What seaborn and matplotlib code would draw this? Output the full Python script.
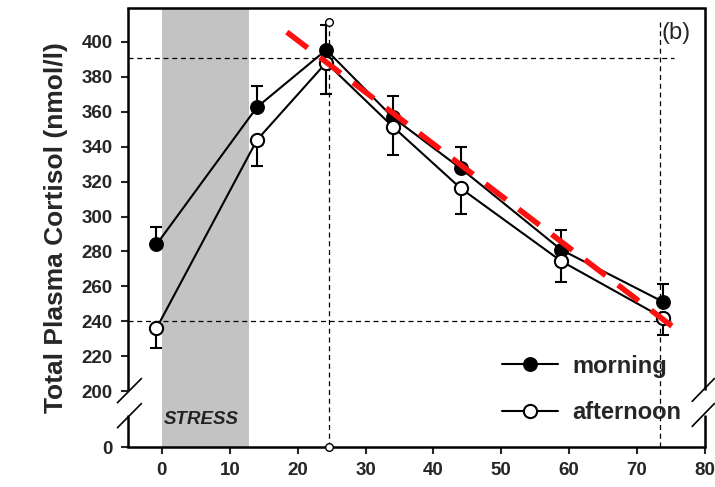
import numpy as np
import pandas as pd
import seaborn as sns
import matplotlib.pyplot as plt

# sampling times (min) and cortisol (nmol/l)
time = [-0.8, 14, 24.2, 34, 44, 58.8, 73.8]
morning = [284, 362.6, 395.4, 356.8, 327.6, 281, 251.2]
morning_err = [10, 12, 14, 12, 12, 11, 10]
afternoon = [236, 343.8, 388.1, 351.5, 316.2, 274.5, 242]
afternoon_err = [11, 15, 18, 16, 15, 12, 10]

# fitted decline (red dashed) end points
fit_x = [18.4, 75.7]
fit_y = [405.6, 235.5]

# stress window and guide lines
stress_span = [0, 12.8]
peak_x = 24.6
end_x = 73.3
guide_top = 411.5
peak_level = 391
end_level = 240

# y axis is broken: "0" is drawn just below the 200 tick
Y_ZERO = 168
y_ticks = [Y_ZERO, 200, 220, 240, 260, 280, 300, 320, 340, 360, 380, 400]
y_labels = ["0", "200", "220", "240", "260", "280", "300", "320", "340", "360", "380", "400"]
x_ticks = [0, 10, 20, 30, 40, 50, 60, 70, 80]

sns.set_style("ticks")
plt.rcParams["font.family"] = ["Liberation Sans", "DejaVu Sans"]

fig, ax = plt.subplots(figsize=(7.15, 4.87), dpi=100)
fig.subplots_adjust(left=0.179, right=0.986, bottom=0.082, top=0.984)

ax.set_xlim(-5, 80)
ax.set_ylim(Y_ZERO, 419.5)

ax.axvspan(stress_span[0], stress_span[1], color="#c3c3c3", lw=0, zorder=0)
ax.text(stress_span[0] + 0.2, 181, "STRESS", fontsize=13.5, fontweight="bold",
        fontstyle="italic", color="#222222", va="baseline", ha="left")

# guide lines
dash = (0, (4, 3))
ax.plot([-5, 75.4], [peak_level, peak_level], color="black", lw=0.9, ls=dash, zorder=1)
ax.plot([-5, 75.0], [end_level, end_level], color="black", lw=0.9, ls=dash, zorder=1)
ax.plot([peak_x, peak_x], [Y_ZERO, guide_top], color="black", lw=0.9, ls=dash, zorder=1)
ax.plot([end_x, end_x], [Y_ZERO, guide_top], color="black", lw=0.9, ls=dash, zorder=1)
ax.plot([peak_x, peak_x], [guide_top, Y_ZERO], "o", mfc="white", mec="black",
        mew=1.0, ms=5.5, clip_on=False, zorder=6)

# error bars (morning up, afternoon down)
zeros = np.zeros(len(time))
ax.errorbar(time, morning, yerr=[zeros, morning_err], fmt="none", ecolor="black",
            elinewidth=1.5, capsize=4, capthick=1.5, zorder=2)
ax.errorbar(time, afternoon, yerr=[afternoon_err, zeros], fmt="none", ecolor="black",
            elinewidth=1.5, capsize=4, capthick=1.5, zorder=2)

df = pd.DataFrame({"time": time, "morning": morning, "afternoon": afternoon})
sns.lineplot(data=df, x="time", y="morning", ax=ax, color="black", lw=1.5,
             marker="o", markersize=9.5, markerfacecolor="black",
             markeredgecolor="black", markeredgewidth=1.2, label="morning", zorder=3)
sns.lineplot(data=df, x="time", y="afternoon", ax=ax, color="black", lw=1.5,
             marker="o", markersize=9.5, markerfacecolor="white",
             markeredgecolor="black", markeredgewidth=1.5, label="afternoon", zorder=3)

sns.lineplot(x=fit_x, y=fit_y, ax=ax, color="#ff1010", lw=4, zorder=4)
ax.lines[-1].set_dashes((4.7, 2.8))

ax.text(peak_x + 49, 405, "(b)", fontsize=17, ha="left", va="center")

ax.set_xticks(x_ticks)
ax.set_yticks(y_ticks)
ax.set_yticklabels(y_labels)
ax.tick_params(axis="both", direction="out", length=5, width=1.5, labelsize=13.5, pad=6)
for lab in ax.get_xticklabels() + ax.get_yticklabels():
    lab.set_fontweight("bold")
ax.set_xlabel("")
ax.set_ylabel("Total Plasma Cortisol (nmol/l)", fontsize=19, fontweight="bold", labelpad=10)

# box with breaks on both sides
for side in ["top", "bottom"]:
    ax.spines[side].set_linewidth(1.8)
    ax.spines[side].set_color("black")
ax.spines["left"].set_visible(False)
ax.spines["right"].set_visible(False)
kw = dict(transform=ax.transAxes, color="black", clip_on=False, solid_capstyle="butt")
for xa in [0, 1]:
    ax.plot([xa, xa], [0, 0.073], lw=1.8, **kw)
    ax.plot([xa, xa], [0.130, 1], lw=1.8, **kw)
ax.plot([-0.019, 0.024], [0.100, 0.157], lw=1.2, **kw)
ax.plot([-0.019, 0.024], [0.043, 0.100], lw=1.2, **kw)
ax.plot([0.977, 1.017], [0.103, 0.157], lw=1.2, **kw)
ax.plot([0.977, 1.017], [0.046, 0.100], lw=1.2, **kw)

handles, labels = ax.get_legend_handles_labels()
leg = ax.legend(handles[:2], labels[:2], loc="lower right", bbox_to_anchor=(0.98, 0.025),
                frameon=False, handlelength=2.4, labelspacing=1.0, borderpad=0,
                handletextpad=0.6, prop={"size": 17, "weight": "bold"})

plt.savefig("out.png", dpi=100)
